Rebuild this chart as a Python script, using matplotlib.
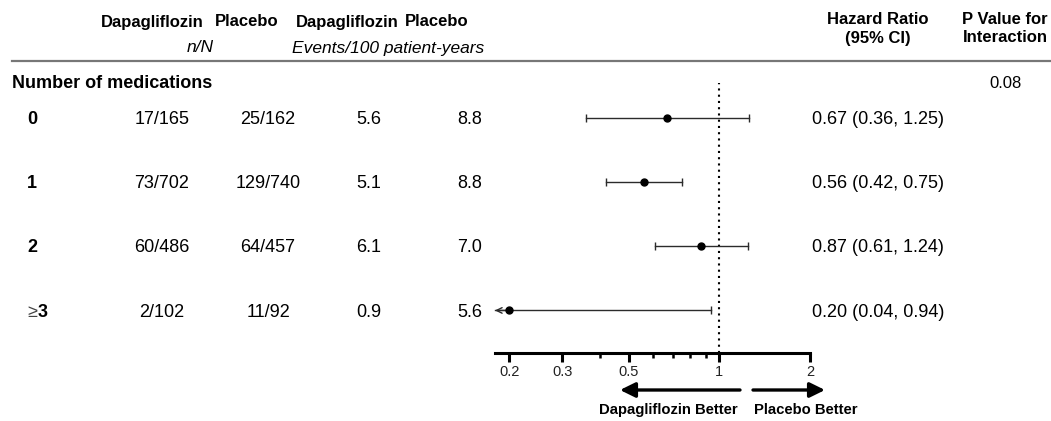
import matplotlib
matplotlib.use('Agg')
import matplotlib.pyplot as plt
from matplotlib.transforms import Affine2D, blended_transform_factory, ScaledTranslation
from matplotlib.ticker import FixedLocator, NullFormatter, FixedFormatter

plt.rcParams['font.family'] = ['Liberation Sans', 'DejaVu Sans']

# ---------------- data ----------------
subgroup_title = "Number of medications"
categories = ["0", "1", "2", "3"]
category_prefix = ["", "", "", "\u2265"]
dapa_nN = ["17/165", "73/702", "60/486", "2/102"]
plac_nN = ["25/162", "129/740", "64/457", "11/92"]
dapa_rate = [5.6, 5.1, 6.1, 0.9]
plac_rate = [8.8, 8.8, 7.0, 5.6]
hr = [0.67, 0.56, 0.87, 0.20]
ci_low = [0.36, 0.42, 0.61, 0.04]
ci_high = [1.25, 0.75, 1.24, 0.94]
p_interaction = "0.08"
major_ticks = [0.2, 0.3, 0.5, 1, 2]
major_labels = ["0.2", "0.3", "0.5", "1", "2"]
minor_ticks = [0.4, 0.6, 0.7, 0.8, 0.9]
x_min, x_max = 0.1795, 2.0

# ---------------- figure ----------------
W, H = 1051, 421
fig = plt.figure(figsize=(W / 100, H / 100), dpi=100)
pix = Affine2D().scale(1 / W, -1 / H).translate(0, 1) + fig.transFigure

ax = fig.add_axes([495 / W, 1 - 353 / H, (810 - 495) / W, (353 - 83) / H])
ax.set_xscale('log')
ax.set_xlim(x_min, x_max)
ax.set_ylim(3.662, -0.537)
ax.patch.set_alpha(0)
for s in ['top', 'left', 'right']:
    ax.spines[s].set_visible(False)
ax.spines['bottom'].set_linewidth(2.2)
ax.yaxis.set_visible(False)
ax.xaxis.set_major_locator(FixedLocator(major_ticks))
ax.xaxis.set_major_formatter(FixedFormatter(major_labels))
ax.xaxis.set_minor_locator(FixedLocator(minor_ticks))
ax.xaxis.set_minor_formatter(NullFormatter())
ax.tick_params(axis='x', which='major', length=6.5, width=2.2, pad=2.5, labelsize=10.5,
               labelcolor='#222222')
ax.tick_params(axis='x', which='minor', length=3.3, width=1.8)

# reference line
ax.axvline(1, color='black', lw=1.5, ls=(0, (1, 2)), zorder=1)

ci_col = '#2b2b2b'
for i in range(len(hr)):
    lo = max(ci_low[i], x_min)
    ax.plot([lo, ci_high[i]], [i, i], color=ci_col, lw=1.0, zorder=2, clip_on=False)
    caps = [c for c in (ci_low[i], ci_high[i]) if x_min <= c <= x_max]
    ax.plot(caps, [i] * len(caps), ls='none', marker='|', ms=6, mew=1.0, color=ci_col,
            zorder=2, clip_on=False)
    if ci_low[i] < x_min:
        ax.annotate('', xy=(x_min, i), xytext=(hr[i], i),
                    arrowprops=dict(arrowstyle='->,head_length=0.5,head_width=0.25',
                                    lw=1.0, color=ci_col, shrinkA=0, shrinkB=0,
                                    mutation_scale=8), annotation_clip=False)
    ax.plot([hr[i]], [i], ls='none', marker='o', ms=5, color='black', zorder=3, clip_on=False)

# ---------------- header ----------------
hdr = dict(fontsize=12, fontweight='bold', ha='center', va='baseline', transform=pix)
fig.text(152, 26.5, "Dapagliflozin", **hdr)
fig.text(247, 26.5, "Placebo", **hdr)
fig.text(347, 26.5, "Dapagliflozin", **hdr)
fig.text(437, 26.5, "Placebo", **hdr)
fig.text(878, 24, "Hazard Ratio", **hdr)
fig.text(878, 42.5, "(95% CI)", **hdr)
fig.text(1005, 24, "P Value for", **hdr)
fig.text(1005, 42.5, "Interaction", **hdr)
it = dict(fontsize=12.5, fontstyle='italic', ha='center', va='baseline', transform=pix)
fig.text(200, 52.5, "n/N", **it)
fig.text(388, 52.5, "Events/100 patient-years", **it)

fig.add_artist(plt.Line2D([12, W], [61, 61], color='#777777', lw=1.6, transform=pix))

fig.text(12, 88, subgroup_title, fontsize=13, fontweight='bold', ha='left', va='baseline',
         transform=pix)
fig.text(1005, 88, p_interaction, fontsize=12, ha='center', va='baseline', transform=pix)

# ---------------- rows ----------------
row_tr = blended_transform_factory(pix, ax.transData) + ScaledTranslation(0, -6.3 / 100,
                                                                           fig.dpi_scale_trans)
body = dict(fontsize=13, va='baseline', transform=row_tr)
for i in range(len(categories)):
    if category_prefix[i]:
        fig.text(27, i, category_prefix[i], ha='left', color='#444444', **body)
        fig.text(38, i, categories[i], ha='left', fontweight='bold', **body)
    else:
        fig.text(27, i, categories[i], ha='left', fontweight='bold', **body)
    fig.text(162, i, dapa_nN[i], ha='center', **body)
    fig.text(268, i, plac_nN[i], ha='center', **body)
    fig.text(369, i, f"{dapa_rate[i]:.1f}", ha='center', **body)
    fig.text(470, i, f"{plac_rate[i]:.1f}", ha='center', **body)
    fig.text(878, i, f"{hr[i]:.2f} ({ci_low[i]:.2f}, {ci_high[i]:.2f})", ha='center', **body)

# ---------------- direction arrows ----------------
arr = dict(arrowstyle='-|>,head_length=0.65,head_width=0.32', lw=2.4, color='black',
           shrinkA=0, shrinkB=0, mutation_scale=14)
fig.add_artist(plt.Annotation('', xy=(620, 390), xytext=(740, 390), xycoords=pix,
                              textcoords=pix, arrowprops=arr))
fig.add_artist(plt.Annotation('', xy=(825, 390), xytext=(753, 390), xycoords=pix,
                              textcoords=pix, arrowprops=arr))
lab = dict(fontsize=10.7, fontweight='bold', ha='center', va='baseline', transform=pix)
fig.text(668, 414, "Dapagliflozin Better", **lab)
fig.text(806, 414, "Placebo Better", **lab)

fig.savefig('out.png', dpi=100)
